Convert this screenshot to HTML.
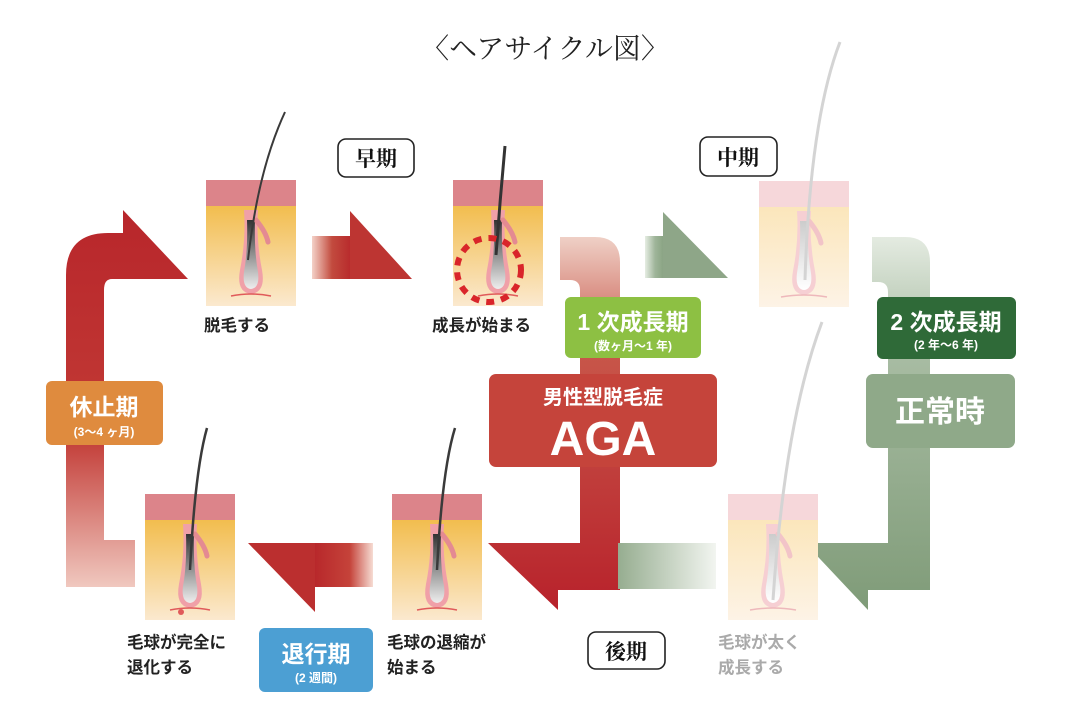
<!DOCTYPE html>
<html><head><meta charset="utf-8"><style>
html,body{margin:0;padding:0;background:#fff}
svg{display:block}
text{font-family:"Liberation Sans","Noto Sans CJK JP",sans-serif}
</style></head><body>
<svg width="1086" height="724" viewBox="0 0 1086 724" xmlns="http://www.w3.org/2000/svg">
<defs>
<linearGradient id="yel" x1="0" y1="0" x2="0" y2="1"><stop offset="0" stop-color="#f2bd4e"/><stop offset="1" stop-color="#fbe9cf"/></linearGradient>
<linearGradient id="yelF" x1="0" y1="0" x2="0" y2="1"><stop offset="0" stop-color="#fbe6bb"/><stop offset="1" stop-color="#fdf3e6"/></linearGradient>
<linearGradient id="bulb" x1="0" y1="0" x2="0" y2="1"><stop offset="0" stop-color="#333"/><stop offset="1" stop-color="#eee"/></linearGradient>
<linearGradient id="bulbF" x1="0" y1="0" x2="0" y2="1"><stop offset="0" stop-color="#ccc"/><stop offset="1" stop-color="#fff"/></linearGradient>
<linearGradient id="redV" x1="0" y1="0" x2="0" y2="1"><stop offset="0" stop-color="#b8262b"/><stop offset="0.6" stop-color="#c23a35"/><stop offset="1" stop-color="#f0c8bf"/></linearGradient>
<linearGradient id="redH" x1="0" y1="0" x2="1" y2="0"><stop offset="0" stop-color="#f4d2c8"/><stop offset="0.5" stop-color="#c24b3e"/><stop offset="1" stop-color="#b8282b"/></linearGradient>
<linearGradient id="redHL" x1="1" y1="0" x2="0" y2="0"><stop offset="0" stop-color="#f6dcd3"/><stop offset="0.4" stop-color="#c5433a"/><stop offset="1" stop-color="#b8282b"/></linearGradient>
<linearGradient id="redAGA" x1="0" y1="0" x2="0" y2="1"><stop offset="0" stop-color="#efd0c6"/><stop offset="0.3" stop-color="#c8574a"/><stop offset="1" stop-color="#b8222b"/></linearGradient>
<linearGradient id="grnH" x1="0" y1="0" x2="1" y2="0"><stop offset="0" stop-color="#e6ede3"/><stop offset="0.5" stop-color="#9fb59a"/><stop offset="1" stop-color="#86a07f"/></linearGradient>
<linearGradient id="grnHR" x1="1" y1="0" x2="0" y2="0"><stop offset="0" stop-color="#f2f5f0"/><stop offset="1" stop-color="#96ad90"/></linearGradient>
<linearGradient id="grnV" x1="0" y1="0" x2="0" y2="1"><stop offset="0" stop-color="#e4ebe1"/><stop offset="0.3" stop-color="#a9bda4"/><stop offset="1" stop-color="#7f9b78"/></linearGradient>
<g id="tile">
<rect x="0" y="0" width="90" height="26" fill="#dc848a"/>
<rect x="0" y="26" width="90" height="100" fill="url(#yel)"/>
<path d="M38 30 Q40 60 34 90 Q30 112 45 114 Q60 112 56 90 Q50 60 52 30Z" fill="#f0a0a8"/>
<path d="M41 40 Q42 70 38 92 Q36 108 45 109 Q54 108 52 92 Q48 70 49 40Z" fill="url(#bulb)"/>
<path d="M50 40 Q60 52 62 62" stroke="#e48a92" stroke-width="5" fill="none" stroke-linecap="round"/>
<path d="M25 116 Q45 112 65 116" stroke="#e05a5a" stroke-width="1.5" fill="none"/>
</g>
<g id="tileF">
<rect x="0" y="0" width="90" height="26" fill="#f6d7da"/>
<rect x="0" y="26" width="90" height="100" fill="url(#yelF)"/>
<path d="M38 30 Q40 60 34 90 Q30 112 45 114 Q60 112 56 90 Q50 60 52 30Z" fill="#f6cfd3"/>
<path d="M41 40 Q42 70 38 92 Q36 108 45 109 Q54 108 52 92 Q48 70 49 40Z" fill="url(#bulbF)"/>
<path d="M50 40 Q60 52 62 62" stroke="#f2c4c8" stroke-width="5" fill="none" stroke-linecap="round"/>
<path d="M22 116 Q45 112 68 116" stroke="#eeb8bb" stroke-width="1.5" fill="none"/>
</g>
</defs>

<text x="545" y="58" font-size="28" text-anchor="middle" style="font-family:'Liberation Serif','Noto Serif CJK SC',serif" fill="#222">〈ヘアサイクル図〉</text>

<path d="M66 587 L66 275 Q66 233 108 233 L123 233 L123 210 L188 279 L112 279 Q104 279 104 290 L104 540 L135 540 L135 587 Z" fill="url(#redV)"/>
<rect x="312" y="236" width="40" height="43" fill="url(#redH)"/>
<path d="M350 211 L412 279 L350 279Z" fill="#bd3532"/>
<path d="M560 237 L595 237 Q620 237 620 262 L620 590 L558 590 L558 610 L488 543 L580 543 L580 290 Q580 280 570 280 L560 280Z" fill="url(#redAGA)"/>
<rect x="315" y="543" width="58" height="44" fill="url(#redHL)"/>
<path d="M248 543 L315 543 L315 612Z" fill="#bb2f2f"/>
<rect x="645" y="236" width="20" height="42" fill="url(#grnH)"/>
<path d="M663 212 L728 278 L663 278Z" fill="#8ea688"/>
<path d="M872 237 L905 237 Q930 237 930 262 L930 590 L868 590 L868 610 L805 543 L888 543 L888 292 Q888 282 878 282 L872 282Z" fill="url(#grnV)"/>
<rect x="618" y="543" width="98" height="46" fill="url(#grnHR)"/>

<use href="#tile" x="206" y="180"/>
<use href="#tile" x="453" y="180"/>
<use href="#tileF" x="759" y="181"/>
<use href="#tile" x="145" y="494"/>
<use href="#tile" x="392" y="494"/>
<use href="#tileF" x="728" y="494"/>
<path d="M285 112 Q258 170 248 260" stroke="#3a3a3a" stroke-width="2" fill="none"/>
<path d="M505 146 Q500 200 496 255" stroke="#333" stroke-width="3" fill="none"/>
<path d="M840 42 Q810 120 805 280" stroke="#d4d4d4" stroke-width="3" fill="none"/>
<path d="M207 428 Q195 470 190 570" stroke="#3a3a3a" stroke-width="2.5" fill="none"/>
<path d="M455 428 Q442 470 437 570" stroke="#3a3a3a" stroke-width="2.5" fill="none"/>
<path d="M822 322 Q785 420 773 600" stroke="#d4d4d4" stroke-width="3" fill="none"/>
<circle cx="489" cy="270" r="32" fill="none" stroke="#d9252a" stroke-width="6" stroke-dasharray="8 7"/>
<circle cx="181" cy="612" r="3" fill="#e05a5a"/>

<rect x="338" y="139" width="76" height="38" rx="8" fill="#fff" stroke="#222" stroke-width="1.6"/>
<text x="376" y="166" font-size="21" font-weight="700" text-anchor="middle" fill="#111" style="font-family:'Liberation Serif','Noto Serif CJK SC',serif">早期</text>
<rect x="700" y="137" width="77" height="39" rx="8" fill="#fff" stroke="#222" stroke-width="1.6"/>
<text x="738" y="165" font-size="21" font-weight="700" text-anchor="middle" fill="#111" style="font-family:'Liberation Serif','Noto Serif CJK SC',serif">中期</text>
<rect x="588" y="632" width="77" height="37" rx="8" fill="#fff" stroke="#222" stroke-width="1.6"/>
<text x="626" y="659" font-size="21" font-weight="700" text-anchor="middle" fill="#111" style="font-family:'Liberation Serif','Noto Serif CJK SC',serif">後期</text>

<g font-size="16.5" fill="#222" font-weight="700">
<text x="204" y="331">脱毛する</text>
<text x="432" y="331">成長が始まる</text>
<text x="127" y="648">毛球が完全に</text>
<text x="127" y="673">退化する</text>
<text x="387" y="648">毛球の退縮が</text>
<text x="387" y="673">始まる</text>
<text x="718" y="648" fill="#aaa">毛球が太く</text>
<text x="718" y="673" fill="#aaa">成長する</text>
</g>

<rect x="46" y="381" width="117" height="64" rx="6" fill="#df8b3e"/>
<text x="104" y="415" font-size="23" font-weight="700" fill="#fff" text-anchor="middle">休止期</text>
<text x="104" y="436" font-size="12" font-weight="700" fill="#fff" text-anchor="middle">(3〜4 ヶ月)</text>

<rect x="565" y="297" width="136" height="61" rx="6" fill="#8dc043"/>
<text x="633" y="330" font-size="23" font-weight="700" fill="#fff" text-anchor="middle">1 次成長期</text>
<text x="633" y="350" font-size="12" font-weight="700" fill="#fff" text-anchor="middle">(数ヶ月〜1 年)</text>

<rect x="877" y="297" width="139" height="62" rx="6" fill="#2f6a38"/>
<text x="946" y="330" font-size="23" font-weight="700" fill="#fff" text-anchor="middle">2 次成長期</text>
<text x="946" y="349" font-size="12" font-weight="700" fill="#fff" text-anchor="middle">(2 年〜6 年)</text>

<rect x="259" y="628" width="114" height="64" rx="6" fill="#4c9fd3"/>
<text x="316" y="662" font-size="23" font-weight="700" fill="#fff" text-anchor="middle">退行期</text>
<text x="316" y="682" font-size="12" font-weight="700" fill="#fff" text-anchor="middle">(2 週間)</text>

<rect x="489" y="374" width="228" height="93" rx="7" fill="#c5443b"/>
<text x="603" y="404" font-size="20" font-weight="700" fill="#fff" text-anchor="middle">男性型脱毛症</text>
<text x="603" y="455" font-size="48" font-weight="700" fill="#fff" text-anchor="middle">AGA</text>

<rect x="866" y="374" width="149" height="74" rx="7" fill="#8fa989"/>
<text x="940" y="422" font-size="30" font-weight="700" fill="#fff" text-anchor="middle">正常時</text>
</svg>
</body></html>
